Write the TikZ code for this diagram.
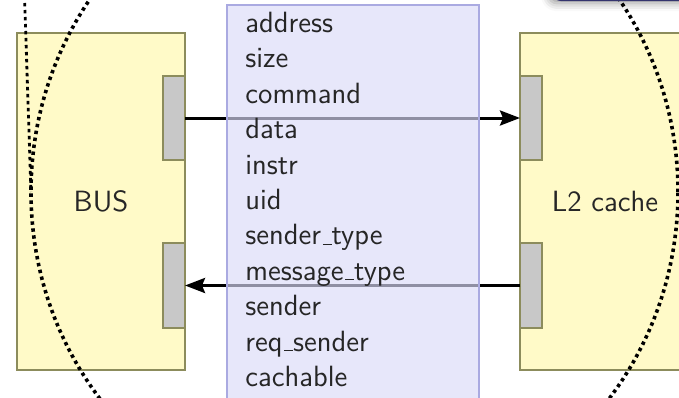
\documentclass[tikz,border=0pt]{standalone}
\usepackage{fontspec}
\usetikzlibrary{arrows.meta,shadows.blur}
\definecolor{unitfill}{RGB}{255,250,200}
\definecolor{unitline}{RGB}{140,140,92}
\definecolor{portfill}{RGB}{200,200,200}
\definecolor{msgfill}{RGB}{218,218,248}
\definecolor{msgline}{RGB}{170,170,225}
\definecolor{noteline}{RGB}{52,52,110}
\definecolor{notefill}{RGB}{225,225,240}
% short underscore sitting on the baseline
\newcommand{\lowbar}{\leavevmode\kern.06em\vbox{\hrule width .3em height .6pt}}
\tikzset{
  unit/.style={draw=unitline, fill=unitfill, line width=1.1pt, inner sep=0pt, outer sep=0pt,
    anchor=north west, font=\sffamily\fontsize{14.65}{17}\selectfont, text=black!85},
  port/.style={draw=unitline, fill=portfill, line width=1.1pt, inner sep=0pt, outer sep=0pt,
    anchor=north west, minimum width=11pt},
  flow/.style={line width=1.5pt, -{Stealth[length=10pt,width=7.5pt,inset=1.5pt]}},
  msgbox/.style={draw=msgline, fill=msgfill, fill opacity=0.66, line width=0.75pt,
    inner sep=0pt, outer sep=0pt, anchor=north west},
  field/.style={anchor=base west, inner sep=0pt, text=black!85,
    font=\sffamily\fontsize{14.65}{17}\selectfont},
  ring/.style={line width=1.8pt, dash pattern=on 1.7pt off 1.8pt},
  note/.style={draw=noteline, fill=notefill, line width=0.8pt, rounded corners=4pt,
    anchor=south west, minimum width=110pt, minimum height=40pt, inner sep=0pt,
    blur shadow={shadow xshift=-2pt, shadow yshift=-1.5pt, shadow blur radius=4pt}}
}
\begin{document}
\begin{tikzpicture}[x=0.5pt, y=-0.5pt]
  \useasboundingbox (0,0) rectangle (679,397);
  \clip (0,0) rectangle (679,397);

  % the two units
  \node[unit, minimum width=84pt, minimum height=168.5pt] (bus) at (17,33) {BUS};
  \node[unit, minimum width=85pt, minimum height=168.5pt] (l2) at (520,33) {L2 cache};

  % ports
  \node[port, minimum height=42pt] (busporta) at (163,76) {};
  \node[port, minimum height=42.5pt] (busportb) at (163,243) {};
  \node[port, minimum height=42pt] (l2porta) at (520,76) {};
  \node[port, minimum height=42.5pt] (l2portb) at (520,243) {};

  % message paths
  \draw[flow] (busporta.east) -- (l2porta.west);
  \draw[flow] (l2portb.west) -- (busportb.east);

  % message record
  \node[msgbox, minimum width=126pt, minimum height=215pt] (msg) at (227,5) {};
  \foreach \t [count=\i] in {address, size, command, data, instr, uid,
      sender\lowbar type, message\lowbar type, sender, req\lowbar sender, cachable}
    \node[field] (f\i) at (245, {32.5+35.4*(\i-1)}) {\t};

  % grouping ring and its lead line
  \draw[ring] (354.5,192) ellipse [x radius=161.75pt, y radius=167.5pt];
  \coordinate (ringwest) at (31,192);
  \coordinate (leadtop) at (24.5,-4);
  \draw[ring, line width=1.4pt] (leadtop) -- (ringwest);

  % note box above
  \node[note] (notebox) at (552,1) {};
\end{tikzpicture}
\end{document}
